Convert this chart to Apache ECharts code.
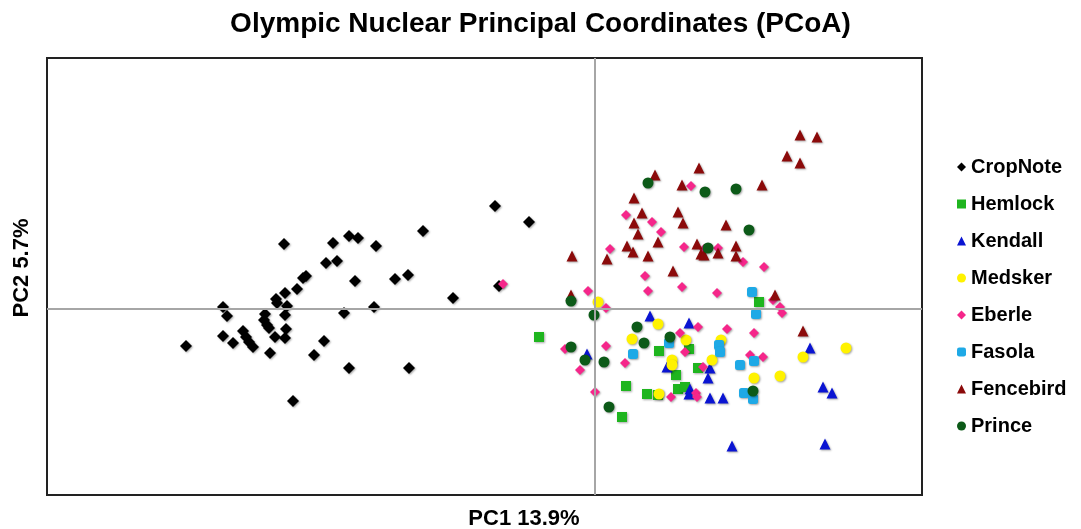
<!DOCTYPE html>
<html>
<head>
<meta charset="utf-8">
<script src="https://cdn.jsdelivr.net/npm/echarts@6/dist/echarts.min.js"></script>
<style>
html,body{margin:0;padding:0;background:#fff;overflow:hidden;}
#chart{width:1081px;height:529px;}
</style>
</head>
<body>
<div id="chart"></div>
<script>
// Values (PC1, PC2 in arbitrary scaled units)
const seriesNames = ['CropNote','Hemlock','Kendall','Medsker','Eberle','Fasola','Fencebird','Prince'];
const xAxisTitle = 'PC1 13.9%';
const yAxisTitle = 'PC2 5.7%';

const cropNote = [[-409,-37],[-372,2],[-368,-7],[-372,-27],[-362,-34],[-352,-22],[-349,-28],[-346,-33],[-342,-38],
  [-330,-5],[-331,-11],[-328,-16],[-326,-19],[-325,-44],[-320,-28],[-311,65],[-319,10],[-318,6],[-310,16],[-308,3],
  [-310,-6],[-309,-20],[-310,-29],[-302,-92],[-298,20],[-292,31],[-289,33],[-269,46],[-258,48],[-262,66],[-246,73],
  [-237,71],[-240,28],[-251,-4],[-271,-32],[-281,-46],[-246,-59],[-219,63],[-172,78],[-100,103],[-66,87],[-200,30],
  [-187,34],[-221,2],[-142,11],[-96,23],[-186,-59]];
const hemlock = [[-56,-28],[164,7],[64,-42],[94,-40],[81,-66],[103,-59],[31,-77],[52,-85],[63,-86],[83,-80],[90,-78],[27,-108]];
const kendall = [[-8,-45],[55,-7],[94,-14],[72,-58],[115,-59],[113,-69],[95,-80],[94,-85],[115,-89],[128,-89],[215,-39],
  [228,-78],[237,-84],[137,-137],[230,-135]];
const medsker = [[3,7],[63,-15],[37,-30],[91,-31],[77,-51],[77,-56],[117,-51],[126,-31],[159,-69],[185,-67],[64,-85],[208,-48],[251,-39]];
const eberle = [[-92,25],[96,123],[31,94],[57,87],[66,77],[15,60],[89,62],[109,60],[123,61],[50,33],[53,18],[87,22],
  [-7,18],[11,1],[148,47],[169,42],[122,16],[178,9],[185,2],[187,-4],[103,-18],[132,-20],[159,-24],[85,-24],[90,-43],
  [-30,-40],[11,-37],[30,-54],[-15,-61],[76,-88],[101,-84],[102,-88],[0,-83],[155,-46],[168,-48],[108,-58]];
const fasola = [[38,-45],[74,-34],[124,-36],[125,-43],[145,-56],[159,-52],[149,-84],[158,-90],[157,17],[161,-5]];
const fencebird = [[60,134],[104,141],[87,124],[39,111],[47,96],[83,97],[39,86],[88,86],[43,75],[63,67],[32,63],[38,57],
  [53,53],[102,65],[106,55],[109,54],[-23,53],[12,50],[78,38],[-24,14],[205,174],[222,172],[192,153],[205,146],[167,124],
  [131,84],[141,63],[123,56],[141,53],[180,14],[208,-22]];
const prince = [[53,126],[110,117],[113,61],[-24,8],[-1,-6],[141,120],[154,79],[42,-18],[49,-34],[75,-28],[-24,-38],
  [-10,-51],[9,-53],[14,-98],[158,-82]];

const xRange = [-548, 327];
const yRange = [-186, 251];

const seriesData = [cropNote, hemlock, kendall, medsker, eberle, fasola, fencebird, prince];
const symbols = ['diamond','rect','triangle','circle','diamond','roundRect','triangle','circle'];
const sizes = [12,10,11,11,10,10,11,11];
const colors = ['#000000','#1fb51f','#0a14d2','#fff200','#f5268a','#1ea9e6','#8b0a0a','#0c5a18'];
const FONT = 'Liberation Sans, Arial, sans-serif';

const chart = echarts.init(document.getElementById('chart'), null, {renderer:'canvas'});
const series = seriesData.map((d,i)=>({
  name: seriesNames[i],
  type: 'scatter',
  data: d,
  symbol: symbols[i],
  symbolSize: sizes[i],
  z: 3,
  itemStyle: {color: colors[i], opacity: 1, shadowBlur: 2, shadowColor: 'rgba(0,0,0,0.35)', shadowOffsetX: 1, shadowOffsetY: 1}
}));
series.unshift({
  name: 'zero',
  type: 'scatter',
  data: [],
  z: 1,
  silent: true,
  markLine: {
    silent: true,
    symbol: 'none',
    label: {show: false},
    lineStyle: {color: '#a6a6a6', width: 2, type: 'solid'},
    data: [{xAxis: 0}, {yAxis: 0}]
  }
});

chart.setOption({
  animation: false,
  backgroundColor: '#ffffff',
  title: {
    text: 'Olympic Nuclear Principal Coordinates (PCoA)',
    left: 'center',
    top: 5,
    textStyle: {fontFamily: FONT, fontWeight: 'bold', fontSize: 28, color: '#000'}
  },
  grid: {left: 47, top: 58, right: 159, bottom: 34, show: true, borderColor: '#222', borderWidth: 2,
         backgroundColor: 'transparent', containLabel: false, outerBoundsMode: 'none'},
  legend: {
    data: seriesNames,
    orient: 'vertical',
    left: 952,
    top: 152,
    itemWidth: 9,
    itemHeight: 9,
    itemGap: 17,
    textStyle: {fontFamily: FONT, fontWeight: 'bold', fontSize: 20, color: '#000', lineHeight: 20}
  },
  xAxis: {
    type: 'value', min: xRange[0], max: xRange[1],
    axisLine: {show: false, onZero: false}, axisTick: {show: false}, axisLabel: {show: false}, splitLine: {show: false}
  },
  yAxis: {
    type: 'value', min: yRange[0], max: yRange[1],
    axisLine: {show: false, onZero: false}, axisTick: {show: false}, axisLabel: {show: false}, splitLine: {show: false}
  },
  graphic: [
    {type: 'text', x: 524, y: 519, style: {text: xAxisTitle, fill: '#000', font: 'bold 22px ' + FONT, textAlign: 'center', textVerticalAlign: 'middle'}},
    {type: 'text', x: 22, y: 268, rotation: Math.PI / 2, style: {text: yAxisTitle, fill: '#000', font: 'bold 22px ' + FONT, textAlign: 'center', textVerticalAlign: 'middle'}}
  ],
  series: series
});
</script>
</body>
</html>
